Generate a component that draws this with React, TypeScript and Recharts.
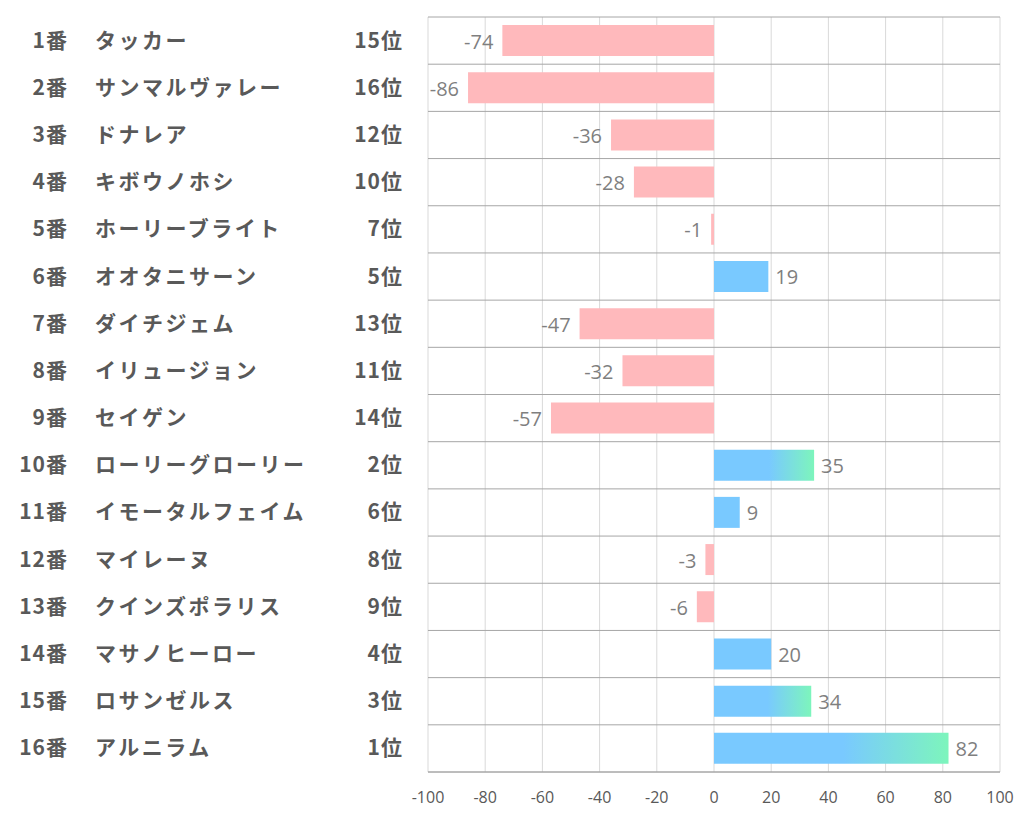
import { BarChart, Bar, XAxis, YAxis, CartesianGrid, Cell, LabelList, ReferenceLine } from 'recharts';

const numbers = ['1番', '2番', '3番', '4番', '5番', '6番', '7番', '8番', '9番', '10番', '11番', '12番', '13番', '14番', '15番', '16番'];
const names = [
  'タッカー', 'サンマルヴァレー', 'ドナレア', 'キボウノホシ', 'ホーリーブライト', 'オオタニサーン',
  'ダイチジェム', 'イリュージョン', 'セイゲン', 'ローリーグローリー', 'イモータルフェイム',
  'マイレーヌ', 'クインズポラリス', 'マサノヒーロー', 'ロサンゼルス', 'アルニラム',
];
const ranks = [15, 16, 12, 10, 7, 5, 13, 11, 14, 2, 6, 8, 9, 4, 3, 1];
const scores = [-74, -86, -36, -28, -1, 19, -47, -32, -57, 35, 9, -3, -6, 20, 34, 82];
const xTicks = [-100, -80, -60, -40, -20, 0, 20, 40, 60, 80, 100];

const PINK = '#ffb9bc';
const BLUE = '#79c9ff';
const GREEN = '#7df5bc';
const TEXT = '#595959';

const data = numbers.map((n, i) => ({
  key: n,
  name: names[i],
  rank: ranks[i],
  score: scores[i],
}));

function HorseTick(props: any) {
  const { y, payload } = props;
  const row = data[payload.index] ?? data.find(d => d.key === payload.value);
  const style = { fontFamily: '"Noto Sans CJK JP", sans-serif', fontSize: 21, fontWeight: 700, fill: TEXT };
  return (
    <g>
      <text x={68} y={y} dy={7} textAnchor="end" style={{ ...style, letterSpacing: 1 }}>{row.key}</text>
      <text x={95} y={y} dy={7} textAnchor="start" style={{ ...style, letterSpacing: 2.5 }}>{row.name}</text>
      <text x={403} y={y} dy={7} textAnchor="end" style={{ ...style, letterSpacing: 1 }}>{row.rank}位</text>
    </g>
  );
}

function ValueLabel(props: any) {
  const { x, y, width, height, value } = props;
  const left = Math.min(x, x + width);
  const right = Math.max(x, x + width);
  const neg = value < 0;
  return (
    <text
      x={neg ? left - 9 : right + 7}
      y={y + height / 2}
      dy={8}
      textAnchor={neg ? 'end' : 'start'}
      style={{ fontFamily: '"Open Sans", sans-serif', fontSize: 20, fill: '#7f7f7f' }}
    >
      {value}
    </text>
  );
}

export default function App() {
  return (
    <div style={{ position: 'absolute', left: 0, top: 0, width: 1022, height: 834, background: '#fff' }}>
      <BarChart
        width={1022}
        height={834}
        data={data}
        layout="vertical"
        margin={{ top: 17, right: 22, bottom: 32, left: 0 }}
        barSize={31}
      >
        <defs>
          <linearGradient id="topGrad" x1="0" y1="0" x2="1" y2="0">
            <stop offset="0" stopColor={BLUE} />
            <stop offset="0.55" stopColor={BLUE} />
            <stop offset="1" stopColor={GREEN} />
          </linearGradient>
        </defs>
        <CartesianGrid horizontal={false} stroke="#d9d9d9" yAxisId="cat" />
        <XAxis
          type="number"
          domain={[-100, 100]}
          ticks={xTicks}
          height={30}
          tickLine={false}
          axisLine={{ stroke: '#a6a6a6' }}
          tickMargin={14}
          tick={{ fontSize: 16, fill: TEXT, fontFamily: '"Open Sans", sans-serif' }}
        />
        <YAxis
          yAxisId="cat"
          type="category"
          dataKey="key"
          width={428}
          tickLine={false}
          axisLine={false}
          tick={<HorseTick />}
          interval={0}
        />
        {data.map(d => (
          <ReferenceLine key={'s' + d.key} yAxisId="cat" y={d.key} position="start" stroke="#a6a6a6" />
        ))}
        <ReferenceLine yAxisId="cat" y={data[data.length - 1].key} position="end" stroke="#a6a6a6" />
        <Bar dataKey="score" yAxisId="cat" isAnimationActive={false}>
          {data.map(d => (
            <Cell
              key={d.key}
              fill={d.score < 0 ? PINK : d.rank <= 3 ? 'url(#topGrad)' : BLUE}
            />
          ))}
          <LabelList dataKey="score" content={<ValueLabel />} />
        </Bar>
      </BarChart>
    </div>
  );
}
